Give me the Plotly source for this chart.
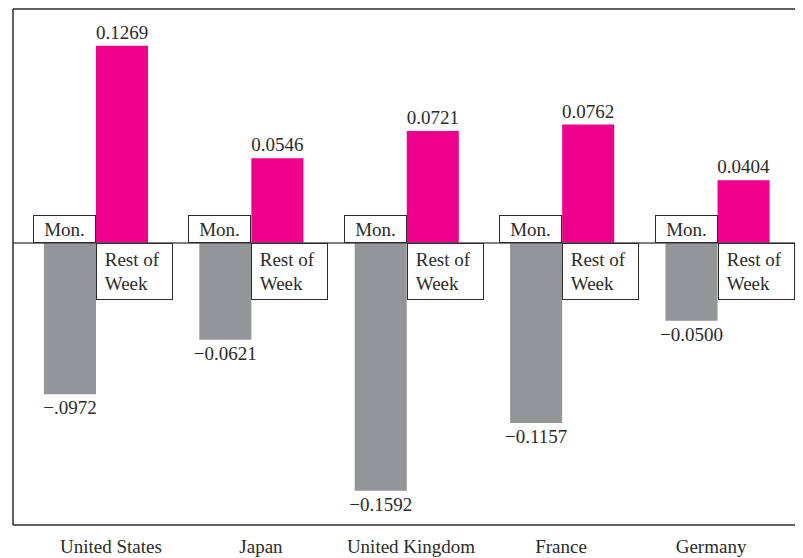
import plotly.graph_objects as go

countries = ["United States", "Japan", "United Kingdom", "France", "Germany"]
monday = [-0.0972, -0.0621, -0.1592, -0.1157, -0.0500]
rest_of_week = [0.1269, 0.0546, 0.0721, 0.0762, 0.0404]
monday_labels = ["\u2212.0972", "\u22120.0621", "\u22120.1592", "\u22120.1157", "\u22120.0500"]
rest_labels = ["0.1269", "0.0546", "0.0721", "0.0762", "0.0404"]

FONT = "Liberation Serif, Times New Roman, serif"
FS = 19
GRAY = "#939598"
MAGENTA = "#EC008C"
INK = "#2b2b2b"
BW = 0.335
xs = list(range(len(countries)))

fig = go.Figure()
fig.add_trace(go.Bar(x=xs, y=monday, width=BW, offset=-BW, marker=dict(color=GRAY, line=dict(width=0)),
                     text=monday_labels, textposition="outside", cliponaxis=False, constraintext="none",
                     textfont=dict(family=FONT, size=FS, color=INK), name="Mon."))
fig.add_trace(go.Bar(x=xs, y=rest_of_week, width=BW, offset=0, marker=dict(color=MAGENTA, line=dict(width=0)),
                     text=rest_labels, textposition="outside", cliponaxis=False, constraintext="none",
                     textfont=dict(family=FONT, size=FS, color=INK), name="Rest of Week"))
# invisible trace so the category-label axis is drawn
fig.add_trace(go.Scatter(x=xs, y=[0] * len(xs), xaxis="x2", mode="markers", opacity=0,
                         hoverinfo="skip", showlegend=False))

shapes = [
    dict(type="line", xref="paper", yref="y", x0=0, x1=1, y0=0, y1=0, line=dict(color="#555", width=1.5)),
    dict(type="line", xref="paper", yref="paper", x0=0, x1=1, y0=1, y1=1, line=dict(color=INK, width=1.5)),
    dict(type="line", xref="paper", yref="paper", x0=0, x1=1, y0=0, y1=0, line=dict(color=INK, width=1.5)),
    dict(type="line", xref="paper", yref="paper", x0=0, x1=0, y0=0, y1=1, line=dict(color=INK, width=1.5)),
]

annotations = []
for i in xs:
    annotations.append(dict(x=i, y=0, xref="x", yref="y", xanchor="right", yanchor="bottom",
                            text="Mon.", showarrow=False, width=59, height=24, align="center",
                            bgcolor="white", bordercolor=INK, borderwidth=1, borderpad=1,
                            font=dict(family=FONT, size=FS, color=INK)))
    annotations.append(dict(x=i, y=0, xref="x", yref="y", xanchor="left", yanchor="top",
                            text="&nbsp;Rest of<br>&nbsp;Week", showarrow=False, width=69, height=49, align="left",
                            bgcolor="white", bordercolor=INK, borderwidth=1, borderpad=3,
                            font=dict(family=FONT, size=FS, color=INK)))

fig.update_layout(
    width=795, height=550,
    margin=dict(l=5, r=0, t=1, b=33),
    paper_bgcolor="white", plot_bgcolor="white",
    showlegend=False, barmode="overlay",
    shapes=shapes, annotations=annotations,
    xaxis=dict(range=[-0.534, 4.55], showticklabels=False, showgrid=False, zeroline=False,
               showline=False, ticks=""),
    xaxis2=dict(range=[-0.653, 4.613], overlaying="x", side="bottom", anchor="y",
                tickvals=xs, ticktext=countries, showgrid=False, zeroline=False,
                showline=False, ticks="outside", ticklen=4, tickcolor="rgba(0,0,0,0)",
                tickfont=dict(family=FONT, size=FS, color=INK)),
    yaxis=dict(range=[-0.1813, 0.1505], showgrid=False, zeroline=False, showticklabels=False, showline=False),
)
fig.write_html("out.html")
